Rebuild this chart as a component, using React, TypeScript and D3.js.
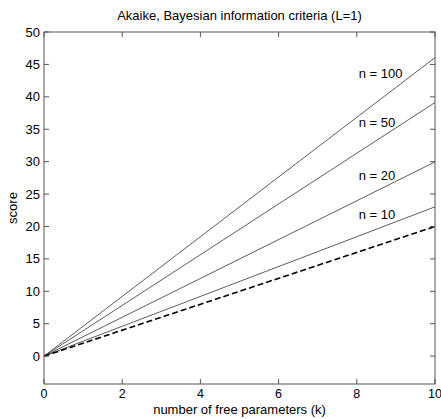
import React from 'react';
import * as d3 from 'd3';

// k range and scores at the ends (L = 1)
const kValues = [0, 10];
const aicScores = [0, 20];
const bicLabels = ['n = 10', 'n = 20', 'n = 50', 'n = 100'];
const bicScores = [
  [0, 23.03],
  [0, 29.96],
  [0, 39.12],
  [0, 46.05],
];
const labelPos = [
  [8.05, 21.8],
  [8.05, 27.9],
  [8.05, 36.0],
  [8.05, 43.6],
];
const xTicks = [0, 2, 4, 6, 8, 10];
const yTicks = [0, 5, 10, 15, 20, 25, 30, 35, 40, 45, 50];

const W = 441;
const H = 419;
const margin = { top: 32, right: 6, bottom: 35, left: 44 };

export default function App() {
  const x = d3.scaleLinear().domain([0, 10]).range([margin.left, W - margin.right]);
  const y = d3.scaleLinear().domain([-4.3, 50]).range([H - margin.bottom, margin.top]);

  const line = d3.line<[number, number]>()
    .x(d => x(d[0]))
    .y(d => y(d[1]));

  const pts = (vals: number[]) => kValues.map((k, i) => [k, vals[i]] as [number, number]);

  const x0 = margin.left;
  const x1 = W - margin.right;
  const y0 = H - margin.bottom;
  const y1 = margin.top;
  const tick = 5;
  const axisColor = '#555';
  const font = 'Liberation Sans, Arial, Helvetica, sans-serif';

  return (
    <svg width={W} height={H} style={{ position: 'absolute', left: 0, top: 0 }} fontFamily={font}>
      <rect x={0} y={0} width={W} height={H} fill="white" />

      {/* curves */}
      {bicScores.map((s, i) => (
        <path key={i} d={line(pts(s)) || ''} fill="none" stroke="#333" strokeWidth={0.8} />
      ))}
      <path d={line(pts(aicScores)) || ''} fill="none" stroke="#000" strokeWidth={1.6} strokeDasharray="6,3" />

      {/* box */}
      <rect x={x0} y={y1} width={x1 - x0} height={y0 - y1} fill="none" stroke={axisColor} strokeWidth={1} />

      {/* x ticks */}
      {xTicks.map(t => (
        <g key={'x' + t}>
          <line x1={x(t)} x2={x(t)} y1={y0} y2={y0 - tick} stroke={axisColor} />
          <line x1={x(t)} x2={x(t)} y1={y1} y2={y1 + tick} stroke={axisColor} />
          <text x={x(t)} y={y0 + 14} textAnchor="middle" fontSize={12.5} fill="#000">{t}</text>
        </g>
      ))}

      {/* y ticks */}
      {yTicks.map(t => (
        <g key={'y' + t}>
          <line x1={x0} x2={x0 + tick} y1={y(t)} y2={y(t)} stroke={axisColor} />
          <line x1={x1} x2={x1 - tick} y1={y(t)} y2={y(t)} stroke={axisColor} />
          <text x={x0 - 4} y={y(t)} dy="0.35em" textAnchor="end" fontSize={13} fill="#000">{t}</text>
        </g>
      ))}

      {/* series labels */}
      {bicLabels.map((lab, i) => (
        <text key={lab} x={x(labelPos[i][0])} y={y(labelPos[i][1])} dy="0.35em" fontSize={13} fill="#000">{lab}</text>
      ))}

      <text x={(x0 + x1) / 2} y={20} textAnchor="middle" fontSize={13} fill="#000">
        Akaike, Bayesian information criteria (L=1)
      </text>
      <text x={(x0 + x1) / 2} y={H - 5} textAnchor="middle" fontSize={13} fill="#000">
        number of free parameters (k)
      </text>
      <text transform={`translate(17, ${(y0 + y1) / 2}) rotate(-90)`} textAnchor="middle" fontSize={13} fill="#000">
        score
      </text>
    </svg>
  );
}
